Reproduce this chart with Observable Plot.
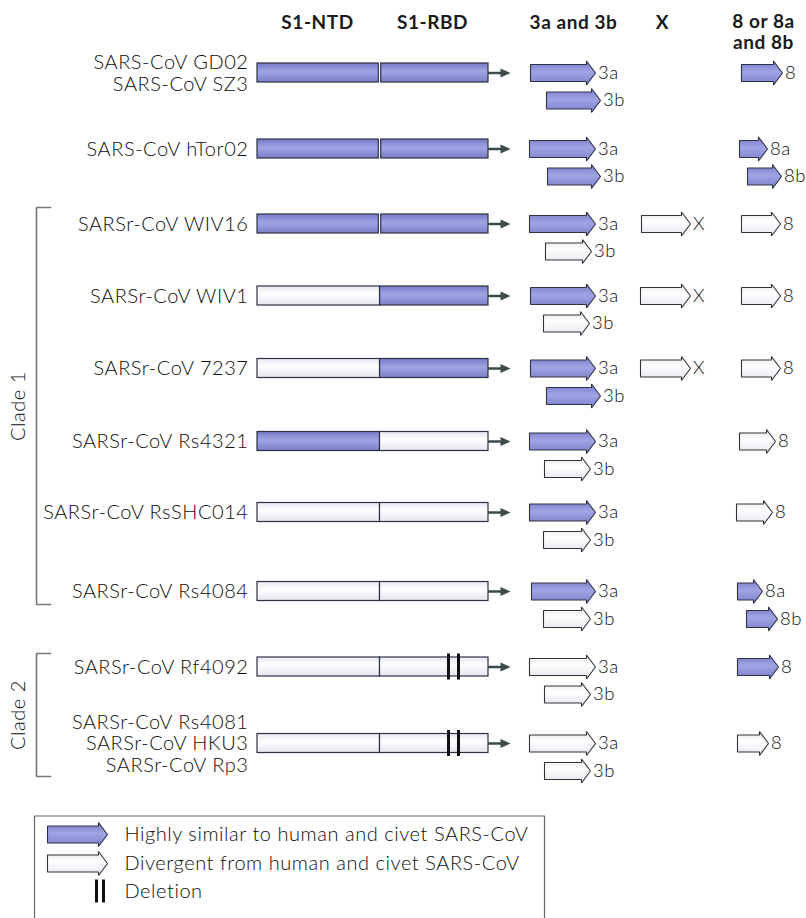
<!DOCTYPE html>
<html><head><meta charset="utf-8">
<script src="https://cdn.jsdelivr.net/npm/d3@7"></script>
<script src="https://cdn.jsdelivr.net/npm/@observablehq/plot@0.6"></script>
<style>body{margin:0;background:#fff;} svg{display:block} svg text{letter-spacing:0.55px}</style>
</head><body><div id="chart"></div>
<script>
// ---- data ----
const strains = ["SARS-CoV GD02\nSARS-CoV SZ3", "SARS-CoV hTor02", "SARSr-CoV WIV16", "SARSr-CoV WIV1", "SARSr-CoV 7237", "SARSr-CoV Rs4321", "SARSr-CoV RsSHC014", "SARSr-CoV Rs4084", "SARSr-CoV Rf4092", "SARSr-CoV Rs4081\nSARSr-CoV HKU3\nSARSr-CoV Rp3"];
const rowY = [72.5, 148.5, 223.5, 295.5, 368, 441, 512, 591, 666.5, 743];
const ntdSimilar = [1, 1, 1, 0, 0, 1, 0, 0, 0, 0];
const rbdSimilar = [1, 1, 1, 1, 1, 0, 0, 0, 0, 0];
const hasDeletion = [0, 0, 0, 0, 0, 0, 0, 0, 1, 1];
const s1Start = 257, s1Split = 379.5, s1End = 488;
const deletionX = [448, 458];

const orf3aStart = [530, 529, 529, 530, 530, 529, 529, 531, 529, 529];
const orf3aEnd   = [595, 595, 595, 595, 595, 595, 595, 595, 595, 595];
const orf3aSim   = [1, 1, 1, 1, 1, 1, 1, 1, 0, 0];
const orf3bStart = [546, 547, 545, 543, 546, 544, 543, 543, 544, 544];
const orf3bEnd   = [600, 600, 591, 589, 600, 590, 590, 590, 590, 590];
const orf3bSim   = [1, 1, 0, 0, 1, 0, 0, 0, 0, 0];
const orfXRows   = [2, 3, 4];
const orfXStart  = [641, 640, 640];
const orfXEnd    = [690, 690, 690];
const orf8Rows   = [0, 2, 3, 4, 5, 6, 8, 9];
const orf8Start  = [741, 741, 741, 741, 739, 736, 737, 737];
const orf8End    = [782, 780, 780, 780, 775, 772, 778, 768];
const orf8Sim    = [1, 0, 0, 0, 0, 0, 1, 0];
const orf8abRows = [1, 7];
const orf8aStart = [739, 737];
const orf8aEnd   = [767, 762];
const orf8bStart = [747, 746];
const orf8bEnd   = [781, 777];

const headers  = ["S1-NTD", "S1-RBD", "3a and 3b", "X", "8 or 8a\nand 8b"];
const headerX  = [317, 432, 573, 662, 763];
const headerY  = [21, 21, 21, 21, 31];

const clades      = ["Clade 1", "Clade 2"];
const cladeTop    = [207, 653];
const cladeBottom = [604, 776];

const legendLabels = ["Highly similar to human and civet SARS-CoV", "Divergent from human and civet SARS-CoV", "Deletion"];
const legendY = [834, 863, 891];

// ---- build tables ----
const laneGap = 27.5;
const rows = strains.map((name, i) => ({name, y: rowY[i], ntd: ntdSimilar[i], rbd: rbdSimilar[i], del: hasDeletion[i]}));
const genes = [];
function addGene(y, label, start, end, sim) { genes.push({id: genes.length, y, label, start, end, sim}); }
rows.forEach((r, i) => {
  addGene(r.y, "3a", orf3aStart[i], orf3aEnd[i], orf3aSim[i]);
  addGene(r.y + laneGap, "3b", orf3bStart[i], orf3bEnd[i], orf3bSim[i]);
});
orfXRows.forEach((ri, j) => addGene(rowY[ri], "X", orfXStart[j], orfXEnd[j], 0));
orf8Rows.forEach((ri, j) => addGene(rowY[ri], "8", orf8Start[j], orf8End[j], orf8Sim[j]));
orf8abRows.forEach((ri, j) => {
  addGene(rowY[ri], "8a", orf8aStart[j], orf8aEnd[j], 1);
  addGene(rowY[ri] + laneGap, "8b", orf8bStart[j], orf8bEnd[j], 1);
});
const legendGenes = [
  {id: "l0", y: legendY[0], start: 47, end: 107, sim: 1},
  {id: "l1", y: legendY[1], start: 47, end: 107, sim: 0}
];

const bh = 8.5, hh = 12, hl = 9;
function arrowPts(g) {
  const xh = g.end - hl;
  return [[g.start, g.y - bh], [xh, g.y - bh], [xh, g.y - hh], [g.end, g.y], [xh, g.y + hh], [xh, g.y + bh], [g.start, g.y + bh]]
    .map(([x, y]) => ({x, y, id: g.id, sim: g.sim}));
}
const allGenes = genes.concat(legendGenes);
const geneSimPts = allGenes.filter(g => g.sim).flatMap(arrowPts);
const geneDivPts = allGenes.filter(g => !g.sim).flatMap(arrowPts);

// S1 segments
const segs = [];
rows.forEach((r, i) => {
  const both = r.ntd && r.rbd;
  segs.push({y: r.y, x1: s1Start, x2: both ? s1Split - 1.2 : s1Split, sim: r.ntd});
  segs.push({y: r.y, x1: both ? s1Split + 1.2 : s1Split, x2: s1End, sim: r.rbd});
});

// connector arrows
const connLines = rows.map(r => ({y: r.y, x1: s1End, x2: 502}));
const connHeads = rows.flatMap((r, i) => [[500, r.y - 4.5], [510, r.y], [500, r.y + 4.5]].map(([x, y]) => ({x, y, id: i})));

// deletion marks
const delMarks = rows.filter(r => r.del).flatMap(r => deletionX.map(x => ({x, y1: r.y - 13, y2: r.y + 13})));
delMarks.push(...[96, 103].map(x => ({x, y1: legendY[2] - 11.5, y2: legendY[2] + 11.5})));

// clade brackets
const bracketPts = clades.flatMap((c, i) => [[50, cladeTop[i]], [36, cladeTop[i]], [36, cladeBottom[i]], [50, cladeBottom[i]]].map(([x, y]) => ({x, y, c})));
const cladeLabels = clades.map((c, i) => ({c, y: (cladeTop[i] + cladeBottom[i]) / 2}));

// legend box (open at bottom – clipped)
const boxPts = [[34, 930], [34, 815.5], [544, 815.5], [544, 930]].map(([x, y]) => ({x, y}));

const FONT = "Lato, 'Noto Sans', sans-serif";
const stroke = "#2e3044";
const textFill = "#0d0d0d";
const LIGHT = 300;

const defs = () => {
  const d = d3.create("svg:defs");
  const gp = d.append("linearGradient").attr("id", "gp").attr("x1", 0).attr("y1", 0).attr("x2", 0).attr("y2", 1);
  gp.append("stop").attr("offset", "0").attr("stop-color", "#777bc8");
  gp.append("stop").attr("offset", "0.45").attr("stop-color", "#a1a4e4");
  gp.append("stop").attr("offset", "1").attr("stop-color", "#7b7fca");
  const gw = d.append("linearGradient").attr("id", "gw").attr("x1", 0).attr("y1", 0).attr("x2", 0).attr("y2", 1);
  gw.append("stop").attr("offset", "0").attr("stop-color", "#e6e7f2");
  gw.append("stop").attr("offset", "0.4").attr("stop-color", "#ffffff");
  gw.append("stop").attr("offset", "1").attr("stop-color", "#e4e5ef");
  return d.node();
};

const plot = Plot.plot({
  width: 806, height: 918, margin: 0,
  x: {domain: [0, 806], range: [0, 806], axis: null},
  y: {domain: [0, 918], range: [0, 918], axis: null},
  style: {fontFamily: FONT, background: "#fff"},
  marks: [
    defs,
    // headers
    Plot.text(headers, {x: (d, i) => headerX[i], y: (d, i) => headerY[i], text: d => d, fontSize: 19, fontWeight: "bold", fill: "#1a1a1a", lineHeight: 1.15}),
    // strain labels
    Plot.text(rows, {x: s1Start - 9, y: "y", text: "name", textAnchor: "end", fontSize: 20, fontWeight: LIGHT, fill: textFill, lineHeight: 1.08}),
    // S1 bars
    Plot.rect(segs.filter(s => s.sim), {x1: "x1", x2: "x2", y1: d => d.y - 9.5, y2: d => d.y + 9.5, fill: "url(#gp)", stroke, strokeWidth: 1.2}),
    Plot.rect(segs.filter(s => !s.sim), {x1: "x1", x2: "x2", y1: d => d.y - 9.5, y2: d => d.y + 9.5, fill: "url(#gw)", stroke, strokeWidth: 1.2}),
    // deletions
    Plot.ruleX(delMarks, {x: "x", y1: "y1", y2: "y2", stroke: "#111", strokeWidth: 3}),
    // connectors
    Plot.ruleY(connLines, {y: "y", x1: "x1", x2: "x2", stroke: "#3b4a4b", strokeWidth: 2.5}),
    Plot.line(connHeads, {x: "x", y: "y", z: "id", curve: "linear-closed", fill: "#3b4a4b", stroke: "none"}),
    // ORF arrows
    Plot.line(geneSimPts, {x: "x", y: "y", z: "id", curve: "linear-closed", fill: "url(#gp)", stroke, strokeWidth: 1.1, strokeLinejoin: "miter"}),
    Plot.line(geneDivPts, {x: "x", y: "y", z: "id", curve: "linear-closed", fill: "url(#gw)", stroke: "#333", strokeWidth: 1.1, strokeLinejoin: "miter"}),
    Plot.text(genes, {x: d => d.end + 2.5, y: "y", text: "label", textAnchor: "start", fontSize: 18.5, fontWeight: LIGHT, fill: textFill}),
    // clade brackets
    Plot.line(bracketPts, {x: "x", y: "y", z: "c", stroke: "#777", strokeWidth: 1.6}),
    Plot.text(cladeLabels, {x: 18, y: "y", text: "c", rotate: -90, fontSize: 20, fontWeight: LIGHT, fill: textFill}),
    // legend
    Plot.line(boxPts, {x: "x", y: "y", stroke: "#666", strokeWidth: 1.2}),
    Plot.text(legendLabels, {x: 124, y: (d, i) => legendY[i], text: d => d, textAnchor: "start", fontSize: 20, fontWeight: LIGHT, fill: textFill})
  ]
});
document.getElementById("chart").append(plot);
</script>
</body></html>
